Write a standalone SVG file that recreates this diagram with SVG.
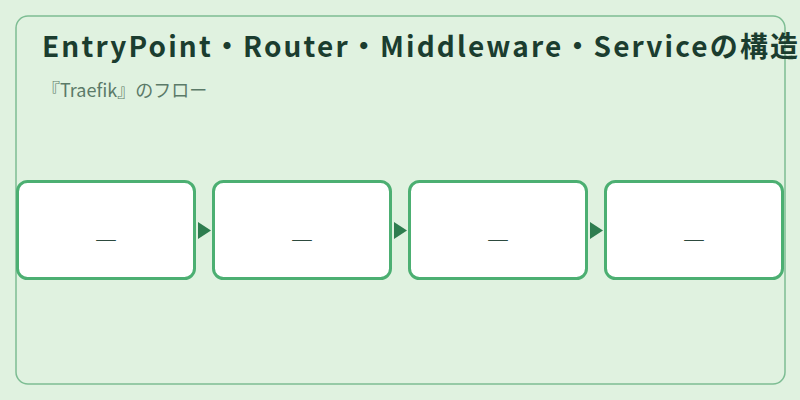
<svg xmlns="http://www.w3.org/2000/svg" width="800" height="400" viewBox="0 0 800 400">
<defs>
<style>
.bg{fill:#e0f2e0}
.frame{fill:#e0f2e0;stroke:#7dbd93;stroke-width:1.5}
.node rect{fill:#ffffff;stroke:#4caf72;stroke-width:3}
.node text{font-family:"Noto Sans CJK JP","Noto Sans",sans-serif;font-size:15px;fill:#2d4a3e;text-anchor:middle}
.title{font-family:"Noto Sans CJK JP","Noto Sans",sans-serif;font-weight:bold;font-size:28px;fill:#1b3d2f;letter-spacing:2.15px}
.sub{font-family:"Noto Sans CJK JP","Noto Sans",sans-serif;font-size:18px;fill:#5b7a68}
.arrow{fill:#2e7d4f}
</style>
</defs>
<rect class="bg" x="0" y="0" width="800" height="400"/>
<rect class="frame" x="16" y="16" width="769" height="368" rx="12" ry="12"/>
<text class="title" x="42" y="56.5">EntryPoint・Router・Middleware・Serviceの構造</text>
<text class="sub" x="42" y="96.5">『Traefik』のフロー</text>
<g id="connectors">
<path class="arrow" d="M198 222 L211 230.5 L198 239 Z"/>
<path class="arrow" d="M394 222 L407 230.5 L394 239 Z"/>
<path class="arrow" d="M590 222 L603 230.5 L590 239 Z"/>
</g>
<g id="node1" class="node">
<rect x="17.5" y="181.5" width="177" height="97" rx="10" ry="10"/>
<text x="106" y="245" textLength="22" lengthAdjust="spacingAndGlyphs">—</text>
</g>
<g id="node2" class="node">
<rect x="213.5" y="181.5" width="177" height="97" rx="10" ry="10"/>
<text x="302" y="245" textLength="22" lengthAdjust="spacingAndGlyphs">—</text>
</g>
<g id="node3" class="node">
<rect x="409.5" y="181.5" width="177" height="97" rx="10" ry="10"/>
<text x="498" y="245" textLength="22" lengthAdjust="spacingAndGlyphs">—</text>
</g>
<g id="node4" class="node">
<rect x="605.5" y="181.5" width="177" height="97" rx="10" ry="10"/>
<text x="694" y="245" textLength="22" lengthAdjust="spacingAndGlyphs">—</text>
</g>
</svg>
